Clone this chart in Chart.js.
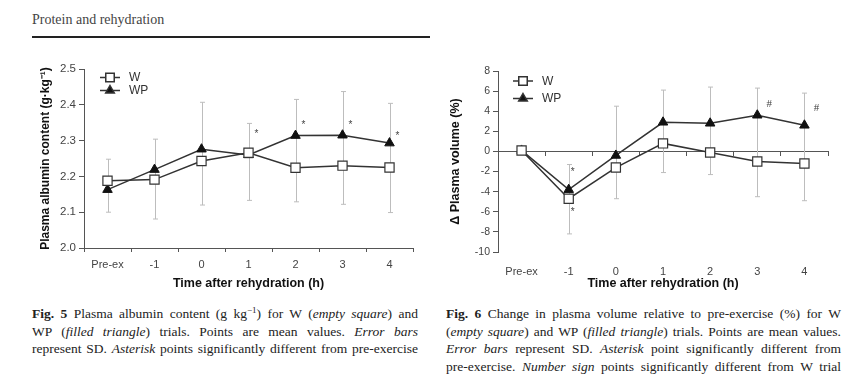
<!DOCTYPE html>
<html>
<head>
<meta charset="utf-8">
<script src="https://cdn.jsdelivr.net/npm/chart.js@4.4.0/dist/chart.umd.min.js"></script>
<style>
  body { margin: 0; width: 850px; height: 384px; background: #fff; position: relative; overflow: hidden; }
  .hdr { position: absolute; left: 32px; top: 12px; font: 14px "Liberation Serif", serif; color: #444; }
  .rule { position: absolute; left: 32px; top: 36px; width: 398px; height: 2px; background: #222; }
  canvas { position: absolute; }
  .cap { position: absolute; top: 305px; font: 13.5px/17.5px "Liberation Serif", serif; color: #222; }
  .cap div { text-align: justify; text-align-last: justify; white-space: nowrap; }
</style>
</head>
<body>
<div class="hdr">Protein and rehydration</div>
<div class="rule"></div>
<canvas id="c5" width="396" height="250" style="left:34px;top:50px;width:396px;height:250px"></canvas>
<canvas id="c6" width="406" height="250" style="left:444px;top:50px;width:406px;height:250px"></canvas>
<div class="cap" style="left:32px;width:386px">
  <div><b>Fig. 5</b> Plasma albumin content (g kg<sup style="font-size:9px;line-height:0">−1</sup>) for W (<i>empty square</i>) and</div>
  <div>WP (<i>filled triangle</i>) trials. Points are mean values. <i>Error bars</i></div>
  <div>represent SD. <i>Asterisk</i> points significantly different from pre-exercise</div>
</div>
<div class="cap" style="left:446px;width:395px">
  <div><b>Fig. 6</b> Change in plasma volume relative to pre-exercise (%) for W</div>
  <div>(<i>empty square</i>) and WP (<i>filled triangle</i>) trials. Points are mean values.</div>
  <div><i>Error bars</i> represent SD. <i>Asterisk</i> point significantly different from</div>
  <div>pre-exercise. <i>Number sign</i> points significantly different from W trial</div>
</div>
<script>
// categories
const times = ['Pre-ex', '-1', '0', '1', '2', '3', '4'];

// Fig 5 - plasma albumin (g/kg)
const albW  = [2.188, 2.191, 2.243, 2.266, 2.224, 2.230, 2.225];
const albWP = [2.163, 2.219, 2.276, 2.260, 2.314, 2.315, 2.293];
const albTop = [2.248, 2.304, 2.407, 2.348, 2.415, 2.437, 2.404];
const albBottom = [2.100, 2.081, 2.120, 2.133, 2.129, 2.122, 2.099];
const albMarks = [[3, 2.318, '*'], [4, 2.344, '*'], [5, 2.344, '*'], [6, 2.313, '*']];

// Fig 6 - change in plasma volume (%)
const pvW  = [0.1, -4.7, -1.6, 0.8, -0.1, -1.0, -1.2];
const pvWP = [0.1, -3.8, -0.4, 2.9, 2.8, 3.6, 2.6];
const pvTop = [null, -1.3, 4.5, 6.1, 6.4, 6.3, 5.8];
const pvBottom = [null, -8.2, -4.7, -2.1, -2.3, -4.5, -4.9];
const pvMarks = [[1, -2.1, '*'], [1, -6.0, '*'], [5, 4.7, '#'], [6, 4.3, '#']];

Chart.defaults.font.family = '"Liberation Sans", Arial, sans-serif';
Chart.defaults.color = '#333';
const ink = '#333';

function drawMarker(ctx, style, x, y, r) {
  ctx.beginPath();
  if (style === 'rect') {
    const s = r * Math.SQRT1_2;
    ctx.rect(x - s, y - s, 2 * s, 2 * s);
    ctx.fillStyle = '#fff';
  } else {
    ctx.moveTo(x, y - r);
    ctx.lineTo(x + 0.866 * r, y + 0.5 * r);
    ctx.lineTo(x - 0.866 * r, y + 0.5 * r);
    ctx.closePath();
    ctx.fillStyle = '#111';
  }
  ctx.fill();
  ctx.stroke();
}

function errorBars(top, bottom) {
  return {
    id: 'errorBars',
    beforeDatasetsDraw(chart) {
      const ctx = chart.ctx, x = chart.scales.x, y = chart.scales.y;
      ctx.save();
      ctx.strokeStyle = '#bdbdbd';
      ctx.lineWidth = 1;
      top.forEach((t, i) => {
        if (t == null) return;
        const px = Math.round(x.getPixelForValue(i)) + 0.5;
        const y1 = y.getPixelForValue(t), y2 = y.getPixelForValue(bottom[i]);
        ctx.beginPath();
        ctx.moveTo(px, y1); ctx.lineTo(px, y2);
        ctx.moveTo(px - 2.5, y1); ctx.lineTo(px + 2.5, y1);
        ctx.moveTo(px - 2.5, y2); ctx.lineTo(px + 2.5, y2);
        ctx.stroke();
      });
      ctx.restore();
    }
  };
}

function marks(list, dx) {
  return {
    id: 'marks',
    afterDatasetsDraw(chart) {
      const ctx = chart.ctx, x = chart.scales.x, y = chart.scales.y;
      ctx.save();
      ctx.fillStyle = '#444';
      ctx.textAlign = 'center';
      ctx.textBaseline = 'middle';
      list.forEach(([i, v, s]) => {
        ctx.font = s === '#' ? '11px "Liberation Serif", serif' : '10px "Liberation Sans", sans-serif';
        ctx.fillText(s, x.getPixelForValue(i) + dx(s), y.getPixelForValue(v));
      });
      ctx.restore();
    }
  };
}

function legendBox(dx, dy, gap) {
  return {
    id: 'legendBox',
    afterDraw(chart) {
      const ctx = chart.ctx, a = chart.chartArea;
      ctx.save();
      ctx.strokeStyle = ink;
      ctx.lineWidth = 1.5;
      [['W', 'rect', 6], ['WP', 'triangle', 5]].forEach(([name, st, r], k) => {
        const cx = a.left + dx, cy = a.top + dy + k * gap;
        ctx.beginPath();
        ctx.moveTo(cx - 10, cy); ctx.lineTo(cx + 10, cy);
        ctx.stroke();
        drawMarker(ctx, st, cx, cy, r);
        ctx.fillStyle = ink;
        ctx.font = '12px "Liberation Sans", sans-serif';
        ctx.textBaseline = 'middle';
        ctx.fillText(name, cx + 19, cy + 0.5);
      });
      ctx.restore();
    }
  };
}

function series(data) {
  return [
    { label: 'W', data: data[0], borderColor: ink, borderWidth: 1.5, pointStyle: 'rect',
      pointRadius: 6.5, pointBackgroundColor: '#fff', pointBorderColor: ink, pointBorderWidth: 1.2 },
    { label: 'WP', data: data[1], borderColor: ink, borderWidth: 1.5, pointStyle: 'triangle',
      pointRadius: 5.5, pointBackgroundColor: '#111', pointBorderColor: '#111', pointBorderWidth: 1 }
  ];
}

const xTitle = { display: true, text: 'Time after rehydration (h)', color: '#111',
  font: { size: 12.5, weight: 'bold' }, padding: { top: 2, bottom: 4 } };

// Fig 5
new Chart(document.getElementById('c5'), {
  type: 'line',
  data: { labels: times, datasets: series([albW, albWP]) },
  options: {
    responsive: false, animation: false, devicePixelRatio: 1,
    layout: { padding: { top: 19, right: 17, bottom: 5, left: 0 } },
    plugins: { legend: { display: false }, tooltip: { enabled: false } },
    scales: {
      x: {
        offset: true,
        grid: { offset: true, drawOnChartArea: false, tickLength: 4, color: '#555' },
        border: { color: '#555' },
        ticks: { padding: 6, font: { size: 11 }, color: '#444' },
        title: xTitle,
        afterFit: s => { s.height = 47; }
      },
      y: {
        min: 2.0, max: 2.5,
        grid: { drawOnChartArea: false, tickLength: 5, color: '#555' },
        border: { color: '#555' },
        ticks: { stepSize: 0.1, padding: 3, font: { size: 11.5 }, color: '#444',
          callback: v => v.toFixed(1) },
        title: { display: true, text: 'Plasma albumin content (g·kg⁻¹)', color: '#111',
          font: { size: 12, weight: 'bold' } },
        afterFit: s => { s.width = 50; }
      }
    }
  },
  plugins: [errorBars(albTop, albBottom), marks(albMarks, () => 8), legendBox(26, 8.5, 13)]
});

// Fig 6
new Chart(document.getElementById('c6'), {
  type: 'line',
  data: { labels: times, datasets: series([pvW, pvWP]) },
  options: {
    responsive: false, animation: false, devicePixelRatio: 1,
    layout: { padding: { top: 21, right: 22, bottom: 5, left: 0 } },
    plugins: { legend: { display: false }, tooltip: { enabled: false } },
    scales: {
      x: {
        position: { y: 0 },
        offset: true,
        grid: { offset: true, drawOnChartArea: false, tickLength: 4, color: '#555' },
        border: { color: '#555' },
        ticks: { display: false }
      },
      xb: {
        position: 'bottom',
        offset: true,
        grid: { display: false },
        border: { display: false },
        ticks: { padding: 5, font: { size: 11 }, color: '#444' },
        title: xTitle,
        afterFit: s => { s.height = 43; }
      },
      y: {
        min: -10, max: 8,
        grid: { drawOnChartArea: false, tickLength: 5, color: '#555' },
        border: { color: '#555' },
        ticks: { stepSize: 2, padding: 3, font: { size: 10.5 }, color: '#444' },
        title: { display: true, text: 'Δ Plasma volume (%)', color: '#111',
          font: { size: 12.5, weight: 'bold' } },
        afterFit: s => { s.width = 54; }
      }
    }
  },
  plugins: [errorBars(pvTop, pvBottom), marks(pvMarks, s => s === '#' ? 12 : 4), legendBox(25, 10, 17.5)]
});
</script>
</body>
</html>
